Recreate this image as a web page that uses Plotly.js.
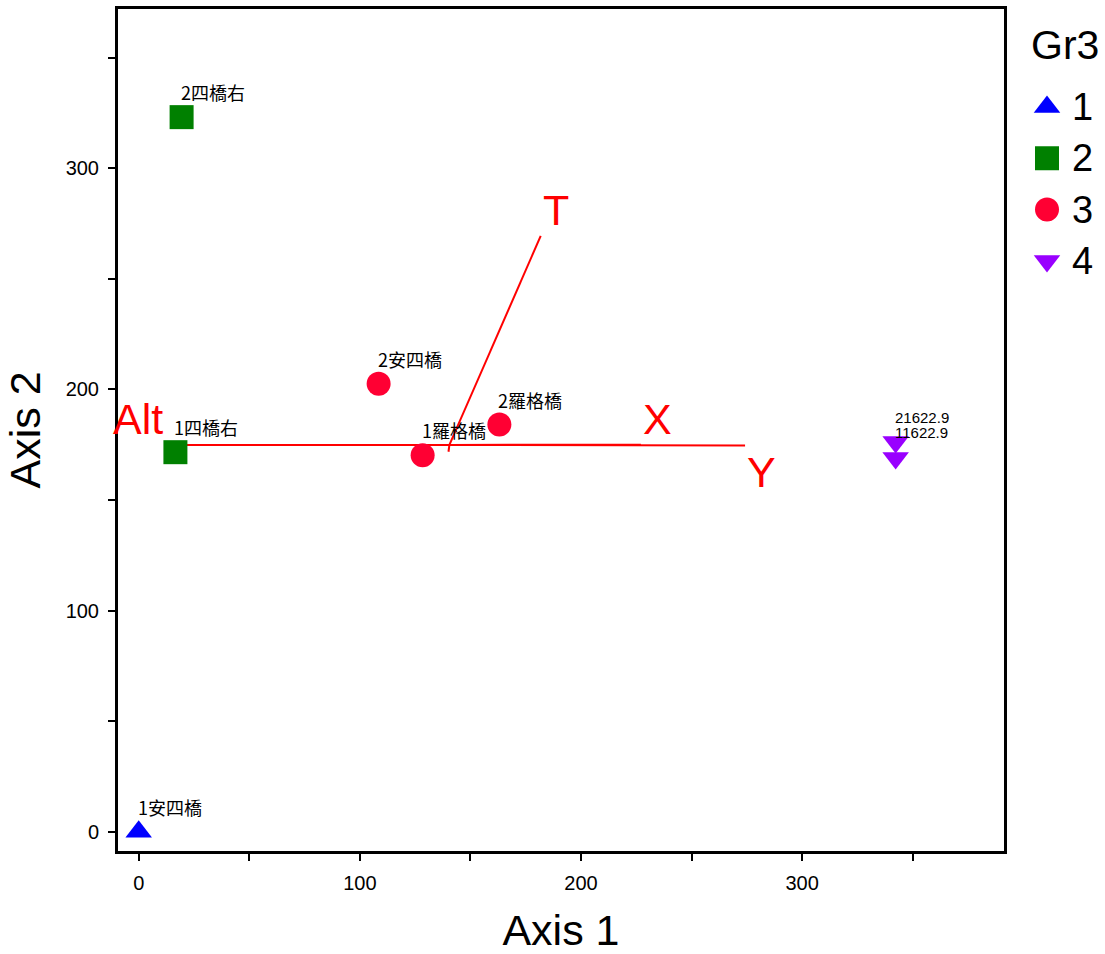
<!DOCTYPE html>
<html>
<head>
<meta charset="utf-8">
<script src="https://cdn.plot.ly/plotly-3.0.1.min.js"></script>
<style>html,body{margin:0;padding:0;background:#fff;}#chart{width:1105px;height:954px;}</style>
</head>
<body>
<div id="chart"></div>
<script>
// ---- Data ----
const groupNames = ["1", "2", "3", "4"];
const legendTitle = "Gr3";
const pointGroup = [1, 2, 2, 3, 3, 3, 4, 4];
const pointLabel = ["1安四橋", "2四橋右", "1四橋右", "2安四橋", "1羅格橋", "2羅格橋", "21622.9", "11622.9"];
const axis1 = [0, 19.4, 16.6, 108.5, 128.4, 163.1, 342.3, 342.3];
const axis2 = [0, 323.1, 171.6, 202.6, 170.2, 184.1, 176.2, 169.0];

const vecCenter = [140.5, 174.9];
const vecName = ["Alt", "T", "X", "Y", ""];
const vecX = [11.9, 181.8, 227.1, 274.2, 140.1];
const vecY = [174.9, 269.4, 175.0, 174.6, 171.8];

const xTicks = [0, 50, 100, 150, 200, 250, 300, 350];
const yTicks = [0, 50, 100, 150, 200, 250, 300, 350];

// ---- Styles ----
const groupSymbol = ["triangle-up", "square", "circle", "triangle-down"];
const groupColor = ["#0000ff", "#008000", "#ff0033", "#9900ff"];
const groupSize = [23, 24, 24, 23];
const FONT = "Arial, Liberation Sans";

// plot area in pixels (layout only)
const W = 1105, H = 954, L = 118, T = 9, B = 103;
const plotW = W - L;
const mainRight = 1004;          // right edge of the framed plot
const legDomain0 = 0.9;
const legPx0 = L + legDomain0 * plotW;

const traces = [];
// biplot vectors
vecName.forEach((n, i) => {
  traces.push({
    x: [vecCenter[0], vecX[i]], y: [vecCenter[1], vecY[i]],
    mode: "lines", line: {color: "#ff0000", width: 2},
    showlegend: false, hoverinfo: "skip"
  });
});
// groups
groupNames.forEach((g, gi) => {
  const xs = [], ys = [];
  pointGroup.forEach((pg, i) => { if (String(pg) === g) { xs.push(axis1[i]); ys.push(axis2[i]); } });
  traces.push({
    x: xs, y: ys, mode: "markers", name: g, type: "scatter", showlegend: false,
    marker: {symbol: groupSymbol[gi], color: groupColor[gi], size: groupSize[gi], opacity: 1, line: {width: 0}}
  });
});

// legend drawn on an overlay axis whose units are pixels
const legX = 1047, legY0 = 107, legDY = 51.3;
traces.push({
  x: groupNames.map(() => legX), y: groupNames.map((g, i) => legY0 + legDY * i),
  xaxis: "x2", yaxis: "y2", mode: "markers", showlegend: false, hoverinfo: "skip",
  marker: {symbol: groupSymbol, color: groupColor, size: groupSize, opacity: 1, line: {width: 0}}
});

const annotations = [];
pointLabel.forEach((t, i) => {
  const isNum = /^[0-9.]+$/.test(t);
  annotations.push({
    x: axis1[i], y: axis2[i], xref: "x", yref: "y", text: t, showarrow: false,
    xanchor: "left", yanchor: "middle", xshift: -2, yshift: 25, borderpad: 0,
    font: {family: isNum ? FONT : "Noto Sans CJK TC, Noto Sans CJK SC", size: isNum ? 15 : 18, color: "#000"}
  });
});
vecName.forEach((n, i) => {
  if (!n) return;
  const dx = vecX[i] - vecCenter[0], dy = vecY[i] - vecCenter[1];
  annotations.push({
    x: vecX[i], y: vecY[i], xref: "x", yref: "y", text: n, showarrow: false,
    xanchor: dx >= 0 ? "left" : "right", yanchor: dy >= 0 ? "bottom" : "top",
    font: {family: FONT, size: 43, color: "#ff0000"}
  });
});
annotations.push({
  x: 1065, y: 45, xref: "x2", yref: "y2", text: legendTitle, showarrow: false,
  xanchor: "center", yanchor: "middle", font: {family: FONT, size: 41, color: "#000"}
});
groupNames.forEach((g, i) => {
  annotations.push({
    x: 1070, y: legY0 + legDY * i, xref: "x2", yref: "y2", text: g, showarrow: false,
    xanchor: "left", yanchor: "middle", font: {family: FONT, size: 38, color: "#000"}
  });
});

const axBase = {
  showgrid: false, zeroline: false, showline: true, linecolor: "#000", linewidth: 3,
  mirror: true, ticks: "outside", ticklen: 7, tickwidth: 2, tickcolor: "#000",
  tickfont: {family: FONT, size: 20, color: "#000"}, ticklabelstandoff: 5,
  tickmode: "array"
};

const layout = {
  width: W, height: H,
  margin: {l: L, r: 0, t: T, b: B},
  paper_bgcolor: "#fff", plot_bgcolor: "#fff",
  showlegend: false,
  xaxis: Object.assign({}, axBase, {
    domain: [0, (mainRight - L) / plotW],
    range: [-9.36, 391.3], tickvals: xTicks,
    ticktext: xTicks.map(v => v % 100 === 0 ? String(v) : ""),
    title: {text: "Axis 1", font: {family: FONT, size: 43, color: "#000"}, standoff: 24}
  }),
  yaxis: Object.assign({}, axBase, {
    range: [-8.73, 372.0], tickvals: yTicks,
    ticktext: yTicks.map(v => v % 100 === 0 ? String(v) : ""),
    title: {text: "Axis 2", font: {family: FONT, size: 43, color: "#000"}, standoff: 12}
  }),
  xaxis2: {domain: [legDomain0, 1], range: [legPx0, W], visible: false, fixedrange: true, anchor: "y2"},
  yaxis2: {domain: [0, 1], range: [H - B, T], visible: false, fixedrange: true, anchor: "x2"},
  annotations: annotations
};

Plotly.newPlot("chart", traces, layout, {displayModeBar: false, staticPlot: true});
</script>
</body>
</html>
